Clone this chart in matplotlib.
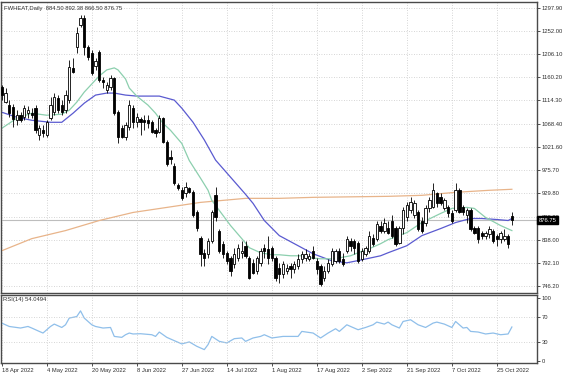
import numpy as np
import matplotlib
matplotlib.use("Agg")
import matplotlib.pyplot as plt
import matplotlib.transforms as mtransforms

# daily bars, 18 Apr 2022 .. 31 Oct 2022
opens = [1141, 1111, 1105, 1101, 1075, 1085, 1081, 1089, 1089, 1099,
         1045, 1055, 1045, 1079, 1091, 1119, 1105, 1095, 1115, 1179,
         1221, 1264, 1278, 1220, 1209, 1182, 1211, 1155, 1135, 1141,
         1159, 1091, 1059, 1041, 1061, 1099, 1071, 1077, 1075, 1075,
         1071, 1055, 1051, 1079, 1031, 1003, 985, 946, 936, 930,
         940, 932, 892, 842, 812, 810, 836, 926, 856, 830,
         812, 802, 790, 802, 812, 826, 802, 792, 776, 792,
         822, 820, 822, 802, 782, 770, 776, 786, 780, 786,
         800, 802, 800, 816, 796, 786, 762, 776, 790, 796,
         816, 800, 816, 836, 836, 832, 800, 810, 816, 842,
         840, 866, 856, 862, 876, 862, 832, 862, 882, 896,
         886, 892, 876, 872, 900, 902, 930, 922, 900, 902,
         890, 896, 936, 902, 886, 896, 862, 862, 852, 846,
         850, 856, 846, 840, 840, 846, 884.50]
highs = [1145, 1139, 1115, 1107, 1095, 1091, 1105, 1103, 1099, 1105,
         1065, 1065, 1075, 1121, 1129, 1125, 1115, 1135, 1195, 1199,
         1261, 1284, 1284, 1224, 1215, 1199, 1215, 1161, 1151, 1165,
         1161, 1095, 1065, 1071, 1115, 1105, 1089, 1081, 1085, 1085,
         1075, 1059, 1085, 1081, 1035, 1015, 990, 950, 942, 952,
         942, 936, 896, 846, 820, 842, 896, 942, 860, 836,
         816, 806, 822, 830, 836, 836, 806, 800, 806, 822,
         830, 846, 826, 806, 792, 796, 790, 792, 796, 810,
         816, 820, 812, 826, 802, 790, 786, 800, 822, 820,
         822, 812, 846, 842, 840, 836, 822, 826, 856, 850,
         876, 876, 880, 876, 886, 866, 866, 902, 912, 922,
         916, 896, 882, 906, 922, 950, 932, 930, 920, 906,
         896, 950, 940, 906, 900, 900, 866, 866, 856, 856,
         866, 860, 850, 856, 860, 850, 892.38]
lows = [1115, 1109, 1081, 1061, 1065, 1071, 1075, 1079, 1079, 1049,
        1035, 1041, 1041, 1075, 1085, 1089, 1085, 1089, 1109, 1169,
        1209, 1260, 1205, 1195, 1165, 1175, 1151, 1139, 1129, 1135,
        1085, 1029, 1039, 1035, 1055, 1059, 1061, 1045, 1055, 1059,
        1049, 1041, 1049, 1029, 985, 989, 946, 936, 916, 922,
        930, 882, 856, 786, 786, 802, 832, 876, 812, 802,
        790, 766, 782, 796, 802, 802, 760, 770, 770, 786,
        802, 790, 796, 756, 752, 762, 770, 762, 772, 780,
        792, 796, 796, 800, 770, 746, 756, 772, 786, 792,
        792, 786, 812, 816, 810, 792, 796, 806, 812, 826,
        836, 852, 852, 850, 842, 826, 830, 850, 876, 890,
        880, 856, 852, 866, 892, 900, 902, 906, 896, 882,
        872, 892, 890, 886, 872, 856, 850, 832, 840, 840,
        842, 832, 826, 832, 836, 822, 866.50]
closes = [1125, 1129, 1089, 1077, 1085, 1075, 1099, 1095, 1085, 1055,
          1059, 1049, 1071, 1105, 1121, 1095, 1091, 1125, 1181, 1171,
          1249, 1278, 1220, 1200, 1169, 1192, 1155, 1151, 1145, 1159,
          1089, 1041, 1041, 1065, 1105, 1071, 1081, 1071, 1071, 1069,
          1051, 1049, 1079, 1031, 989, 999, 950, 940, 920, 942,
          932, 886, 862, 810, 802, 836, 892, 882, 816, 810,
          796, 776, 810, 822, 816, 806, 762, 772, 802, 816,
          816, 802, 802, 762, 770, 790, 782, 780, 790, 800,
          810, 810, 806, 802, 780, 750, 776, 792, 816, 816,
          796, 790, 840, 826, 822, 796, 816, 822, 846, 830,
          870, 856, 872, 852, 846, 830, 862, 896, 906, 912,
          910, 860, 856, 900, 916, 936, 910, 910, 916, 890,
          876, 936, 892, 892, 896, 860, 852, 840, 846, 852,
          860, 836, 840, 852, 846, 830, 876.75]

# moving averages: (bar index, value)
ma_fast_idx = [0, 4, 8, 12, 16, 18, 20, 22, 24, 26, 28, 30, 31, 33, 34, 36, 39, 41, 43, 45,
               48, 50, 53, 55, 56, 59, 61, 64, 66, 69, 72, 74, 77, 80, 82, 85, 88, 90, 93, 95,
               98, 101, 103, 108, 112, 117, 120, 124, 126, 129, 133, 136]
ma_fast = [1059, 1079, 1089, 1085, 1087, 1095, 1111, 1131, 1147, 1163, 1175, 1179, 1175, 1157, 1139,
           1123, 1105, 1089, 1069, 1055, 1029, 995, 960, 936, 916, 886, 866, 840, 822, 812,
           808, 808, 806, 806, 802, 800, 800, 802, 806, 812, 820, 830, 838, 852, 872, 890,
           900, 902, 900, 882, 866, 856]
ma_mid_idx = [0, 4, 8, 13, 16, 19, 22, 25, 28, 30, 33, 36, 39, 42, 46, 48, 51, 54, 57, 61,
              65, 67, 70, 74, 79, 83, 88, 92, 96, 101, 103, 108, 112, 117, 121, 125, 128, 132, 135, 136]
ma_mid = [1091, 1081, 1075, 1071, 1071, 1089, 1109, 1125, 1129, 1129, 1125, 1123, 1123, 1123, 1115,
          1099, 1071, 1036, 996, 962, 928, 910, 876, 846, 826, 810, 796, 792, 798, 806,
          812, 826, 846, 860, 872, 880, 880, 878, 876, 880]
ma_slow_idx = [0, 8, 17, 26, 35, 44, 53, 65, 74, 83, 103, 112, 121, 130, 136]
ma_slow = [816, 840, 856, 876, 892, 902, 912, 920, 920, 922, 924, 926, 932, 936, 938]

rsi_idx = [0, 2, 5, 7, 8, 10, 11, 13, 14, 16, 17, 18, 20, 21, 22, 24, 25, 27, 29, 30,
           32, 33, 34, 35, 37, 40, 41, 42, 44, 46, 48, 50, 52, 54, 55, 56, 58, 60, 62, 64,
           65, 67, 69, 70, 72, 75, 77, 79, 80, 83, 85, 87, 89, 90, 92, 93, 95, 97, 99, 100,
           102, 103, 104, 106, 107, 109, 111, 113, 115, 116, 118, 120, 121, 123, 124, 125, 127, 129, 131, 133,
           135, 136]
rsi = [60.3, 54.9, 52.4, 54.9, 52.4, 47.0, 44.4, 54.9, 58.7, 53.3, 57.6, 68.3, 70.8, 79.8, 68.3, 57.6,
       54.9, 52.4, 53.3, 39.0, 37.5, 41.7, 44.4, 42.9, 43.3, 41.7, 39.0, 46.0, 37.5, 32.2, 27.0, 30.2,
       23.2, 17.9, 25.9, 39.0, 31.1, 28.6, 35.4, 36.5, 31.1, 36.5, 39.0, 41.7, 36.5, 39.0, 39.0, 39.0,
       47.0, 44.4, 36.5, 44.4, 51.3, 47.0, 57.6, 54.9, 49.7, 53.3, 57.6, 61.9, 58.7, 61.9, 57.6, 52.4,
       62.9, 65.6, 57.6, 53.3, 60.3, 61.9, 58.7, 53.3, 62.9, 52.4, 53.3, 47.0, 46.0, 42.9, 44.4, 41.7,
       42.9, 54.05]

date_labels = ["18 Apr 2022", "4 May 2022", "20 May 2022", "8 Jun 2022", "27 Jun 2022", "14 Jul 2022",
               "1 Aug 2022", "17 Aug 2022", "2 Sep 2022", "21 Sep 2022", "7 Oct 2022", "25 Oct 2022"]
date_pos = [0, 12, 24, 36, 48, 60, 72, 84, 96, 108, 120, 132]
price_ticks = [1297.90, 1252.00, 1206.10, 1160.20, 1114.30, 1068.40, 1021.60,
               975.70, 929.80, 883.90, 838.00, 792.10, 746.20]
rsi_ticks = [0, 30, 70, 100]

plt.rcParams['font.family'] = ['Liberation Sans', 'DejaVu Sans']
FS = 4.2
TXT = '#303030'
GRID = '#c8c8c8'

W, H = 564, 376
fig = plt.figure(figsize=(W / 100, H / 100), dpi=100)


def box(l, t, r, b):
    return [l / W, 1 - b / H, (r - l) / W, (b - t) / H]


ax = fig.add_axes(box(1, 2, 537, 293))
ax2 = fig.add_axes(box(1, 294.5, 537, 363))

x = np.arange(len(closes))
o = np.array(opens, float)
c = np.array(closes, float)
up = c >= o

# candles
ax.vlines(x, lows, highs, color='black', lw=0.6, zorder=3)
ax.bar(x, np.abs(c - o), bottom=np.minimum(o, c), width=0.62,
       color=np.where(up, 'white', 'black'), edgecolor='black', lw=0.6, zorder=4)

ax.plot(ma_slow_idx, ma_slow, color='#e8b48a', lw=0.9, zorder=2)
ax.plot(ma_mid_idx, ma_mid, color='#5a5ad0', lw=0.9, zorder=2)
ax.plot(ma_fast_idx, ma_fast, color='#8ccfae', lw=0.9, zorder=2)
ax.axhline(closes[-1], color='#bdbdbd', lw=0.8, zorder=1)

ax2.plot(rsi_idx, rsi, color='#8fbfea', lw=0.9)
for lv in (30, 70):
    ax2.axhline(lv, color=GRID, lw=0.6, linestyle=(0, (1, 2)))

for a in (ax, ax2):
    a.set_xlim(-0.2, 142.7)
    a.set_xticks(date_pos)
    a.grid(axis='x', color=GRID, lw=0.6, linestyle=(0, (1, 2)))
    a.yaxis.tick_right()
    a.tick_params(axis='both', labelsize=FS, colors=TXT, length=2, width=0.6, pad=1.5)
    for s in a.spines.values():
        s.set_color('#4a4a4a')
        s.set_linewidth(1.0)

ax.set_ylim(732.1, 1309.8)
ax.set_yticks(price_ticks)
ax.set_yticklabels(['%.2f' % v for v in price_ticks])
ax.grid(axis='y', color=GRID, lw=0.6, linestyle=(0, (1, 2)))
ax.tick_params(axis='x', labelbottom=False, length=0)

ax2.set_ylim(-3.5, 106)
ax2.set_yticks(rsi_ticks)
ax2.set_yticklabels([str(v) for v in rsi_ticks])
ax2.set_xticklabels(date_labels, ha='left')

# current price marker
tr = mtransforms.blended_transform_factory(ax.transAxes, ax.transData)
ax.text(1.003, closes[-1], '%.2f' % closes[-1], transform=tr, ha='left', va='center',
        fontsize=FS, color='white', zorder=10, clip_on=False,
        bbox=dict(facecolor='black', edgecolor='black', pad=0.9))

ax.text(0.005, 0.985, 'FWHEAT,Daily  %.2f %.2f %.2f %.2f' % (opens[-1], highs[-1], lows[-1], closes[-1]),
        transform=ax.transAxes, ha='left', va='top', fontsize=FS, color=TXT)
ax2.text(0.004, 0.96, 'RSI(14) %.4f' % 54.0494, transform=ax2.transAxes, ha='left', va='top',
         fontsize=FS, color=TXT)

fig.savefig('out.png', dpi=100, facecolor='white')
